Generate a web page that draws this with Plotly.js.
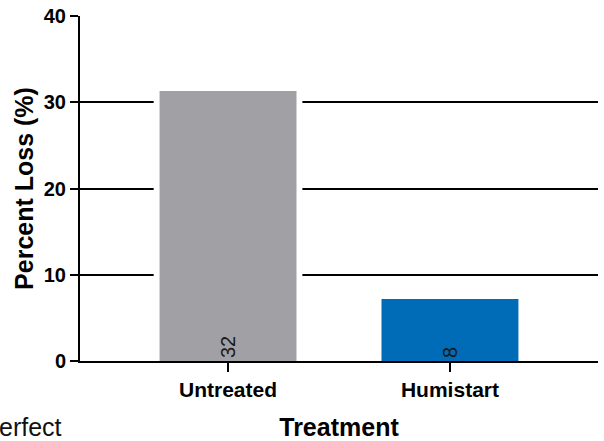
<!DOCTYPE html>
<html><head><meta charset="utf-8">
<script src="https://cdn.plot.ly/plotly-3.0.1.min.js"></script>
<style>html,body{margin:0;padding:0;background:#fff}</style>
</head><body>
<div id="chart" style="width:604px;height:441px"></div>
<script>
var categories = ["Untreated", "Humistart"];
var values = [31.3, 7.2];
var barLabels = ["32", "8"];
var barColors = ["#a1a1a5", "#006bb6"];
var yTicks = [0, 10, 20, 30, 40];
var gridVals = [10, 20, 30];

var F = "Liberation Sans, Arial, sans-serif";

var halo = {
  type: "bar", x: categories, y: values, width: 0.67,
  marker: {color: "#ffffff"}, hoverinfo: "skip", showlegend: false
};
var bars = {
  type: "bar", x: categories, y: values, width: 0.617,
  marker: {color: barColors},
  text: barLabels, textposition: "inside", insidetextanchor: "start",
  textangle: -90, textfont: {family: F, size: 20, color: "#1a1a1a"},
  showlegend: false
};
var gridTrace = {
  type: "scatter", x: categories, y: values, yaxis: "y2",
  mode: "markers", marker: {opacity: 0}, hoverinfo: "skip", showlegend: false
};

var layout = {
  width: 604, height: 441,
  margin: {l: 80, r: 6, t: 16, b: 80},
  paper_bgcolor: "#fff", plot_bgcolor: "rgba(0,0,0,0)",
  barmode: "overlay",
  xaxis: {
    type: "category", range: [-0.667, 1.667],
    showline: true, linecolor: "#000", linewidth: 2,
    ticks: "outside", ticklen: 9, tickwidth: 2, tickcolor: "#000",
    tickfont: {family: F, size: 21, color: "#000", weight: "bold"},
    title: {text: "Treatment", font: {family: F, size: 25, color: "#000", weight: "bold"}, standoff: 19},
    showgrid: false, zeroline: false
  },
  yaxis: {
    range: [0, 40], tickvals: yTicks,
    showline: true, linecolor: "#000", linewidth: 2,
    ticks: "outside", ticklen: 8, tickwidth: 2, tickcolor: "#000",
    tickfont: {family: F, size: 20, color: "#000", weight: "bold"},
    title: {text: "Percent Loss (%)", font: {family: F, size: 25, color: "#000", weight: "bold"}, standoff: 3},
    showgrid: false, zeroline: false
  },
  yaxis2: {
    overlaying: "y", range: [0, 40], tickvals: gridVals,
    showticklabels: false, ticks: "", showline: false, zeroline: false,
    showgrid: true, gridcolor: "#000", gridwidth: 2, layer: "below traces"
  },
  annotations: [{
    text: "erfect", xref: "paper", yref: "paper", x: -0.161, y: -0.19,
    xanchor: "left", yanchor: "middle", showarrow: false,
    font: {family: F, size: 25, color: "#111"}
  }]
};

Plotly.newPlot("chart", [gridTrace, halo, bars], layout, {displayModeBar: false, staticPlot: true});
</script>
</body></html>
